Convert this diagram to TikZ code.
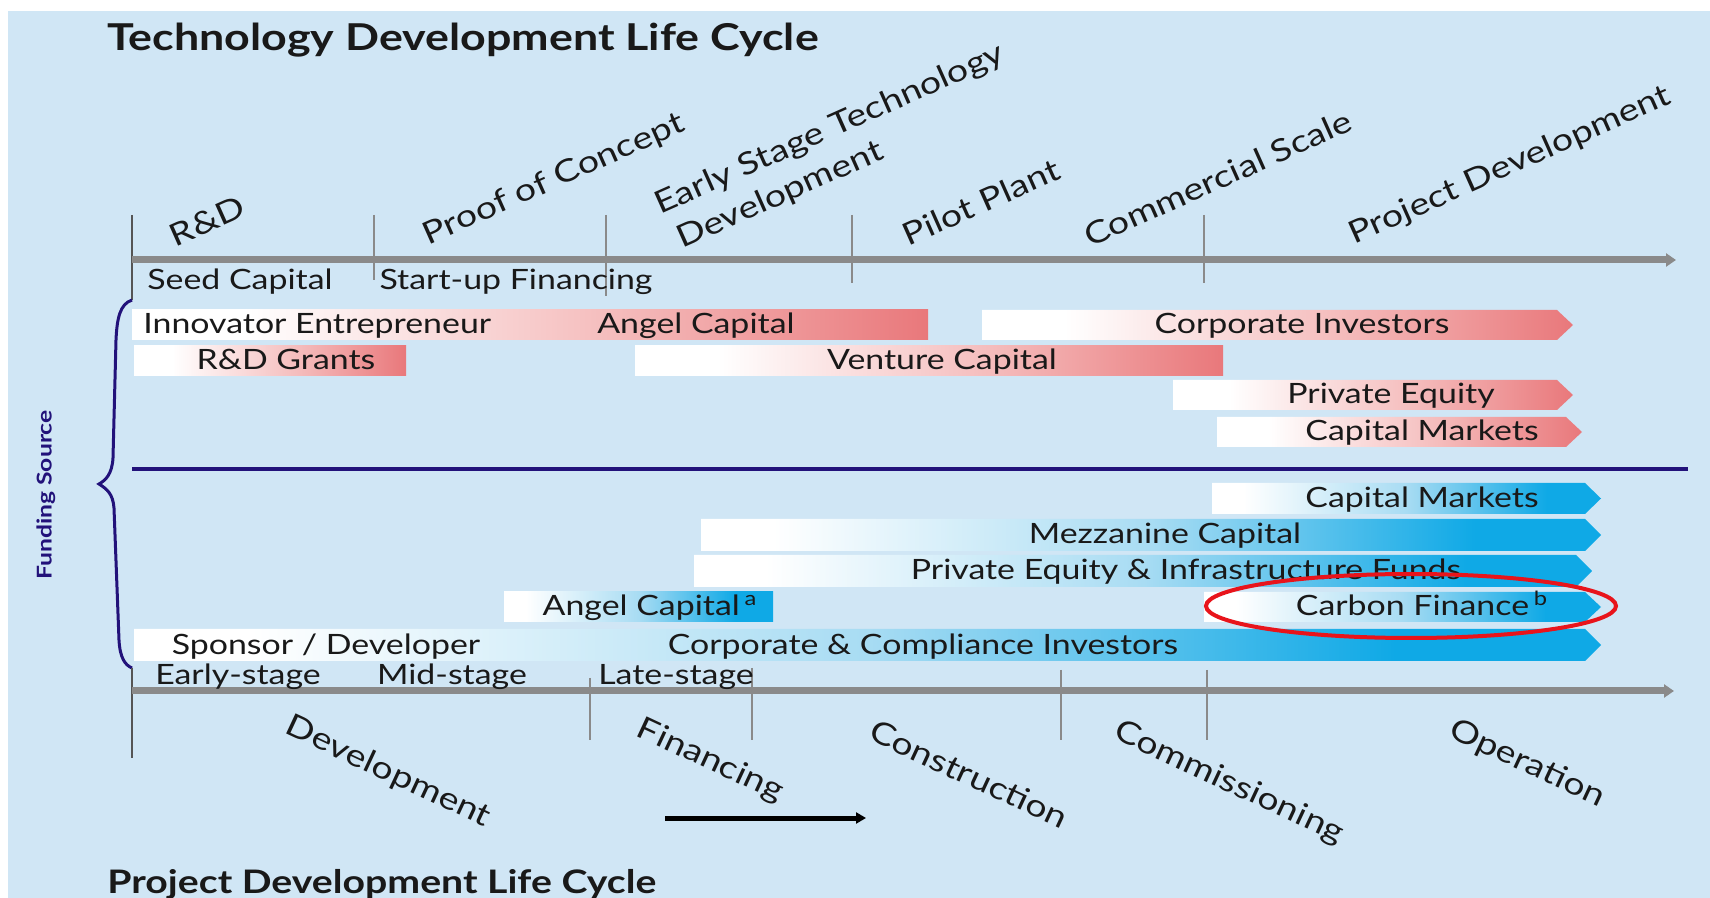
\documentclass[tikz,border=0pt]{standalone}
\usepackage{fontspec}
\setmainfont{Lato}[FakeStretch=1.21]
\usetikzlibrary{arrows.meta}
\definecolor{bgblue}{HTML}{D0E6F5}
\definecolor{navy}{HTML}{22127A}
\definecolor{axgray}{HTML}{8A8A8A}
\definecolor{darkax}{HTML}{555555}
\definecolor{salmon}{HTML}{E9787B}
\definecolor{pinkmid}{HTML}{F5BDBD}
\definecolor{cyanbar}{HTML}{0FA9E6}
\definecolor{lightcy}{HTML}{A8DCF3}
\definecolor{ellred}{HTML}{E8141B}
\pgfdeclarehorizontalshading{redshade}{100bp}{color(0bp)=(white); color(25bp)=(white); color(32bp)=(white); color(55bp)=(pinkmid); color(75bp)=(salmon); color(100bp)=(salmon)}
\pgfdeclarehorizontalshading{blueshade}{100bp}{color(0bp)=(white); color(25bp)=(white); color(29bp)=(white); color(50bp)=(lightcy); color(68bp)=(cyanbar); color(100bp)=(cyanbar)}
\newcommand{\tipbar}[5]{\shade[shading=#5] (#1,#3) -- (#2,#3) -- ({#2+16},{(#3+#4)/2}) -- (#2,#4) -- (#1,#4) -- cycle;}
\newcommand{\flatbar}[5]{\shade[shading=#5] (#1,#3) rectangle (#2,#4);}
\tikzset{
  bt/.style={font=\fontsize{14}{16}\selectfont, text=black!90, inner sep=0pt, anchor=base},
  st/.style={font=\fontsize{15.5}{20}\selectfont, text=black!90, inner sep=0pt},
  tt/.style={font=\bfseries\fontsize{18.5}{22}\selectfont, text=black!90, inner sep=0pt, anchor=west},
  tickln/.style={axgray, line width=1pt},
  axisln/.style={axgray, line width=3.5pt, -{Triangle[length=5pt,width=6.5pt]}},
}
\begin{document}
\begin{tikzpicture}[x=0.5pt,y=-0.5pt]
\useasboundingbox (0,0) rectangle (1710,898);
\fill[white] (0,0) rectangle (1710,898);
\fill[bgblue] (8,11) rectangle (1710,898);

% titles
\node[tt] (title1) at (107,40) {Technology Development Life Cycle};
\node[tt, font=\bfseries\fontsize{16.2}{20}\selectfont] (title2) at (107,884) {Project Development Life Cycle};

% top axis
\coordinate (lt0) at (132,215);
\coordinate (lt1) at (132,300);
\draw[darkax, line width=1.2pt] (lt0) -- (lt1);
\coordinate (tk1a) at (374,215); \coordinate (tk1b) at (374,280);
\coordinate (tk2a) at (606,215); \coordinate (tk2b) at (606,296);
\coordinate (tk3a) at (852,215); \coordinate (tk3b) at (852,283);
\coordinate (tk4a) at (1204,215); \coordinate (tk4b) at (1204,283);
\draw[tickln] (tk1a) -- (tk1b);
\draw[tickln] (tk2a) -- (tk2b);
\draw[tickln] (tk3a) -- (tk3b);
\draw[tickln] (tk4a) -- (tk4b);
\coordinate (ta0) at (132,260);
\coordinate (ta1) at (1676,260);
\draw[axisln] (ta0) -- (ta1);

% top stage labels
\node[st, rotate=24] (rd) at (207,221) {R\&D};
\node[st, rotate=24] (poc) at (554,180) {Proof of Concept};
\node[st, rotate=24, align=left] (esd) at (838,148) {Early Stage Technology\\\hspace{0.2em}Development};
\node[st, rotate=24] (pp) at (981,202) {Pilot Plant};
\node[st, rotate=24] (cs) at (1218,178) {Commercial Scale};
\node[st, rotate=24] (pd) at (1510,166) {Project Development};

\node[bt] (seed) at (240,290) {Seed Capital};
\node[bt] (suf) at (516,290) {Start-up Financing};

% red bars
\flatbar{132}{928}{310}{340}{redshade}
\tipbar{982}{1557}{310}{340}{redshade}
\flatbar{134}{406}{346}{376}{redshade}
\flatbar{635}{1223}{346}{376}{redshade}
\tipbar{1173}{1557}{380}{410}{redshade}
\tipbar{1217}{1566}{417}{447}{redshade}
\node[bt, anchor=base west] (ie) at (143,334) {Innovator Entrepreneur};
\node[bt] (ac1) at (696,334) {Angel Capital};
\node[bt] (ci) at (1302,334) {Corporate Investors};
\node[bt] (rdg) at (286,370) {R\&D Grants};
\node[bt] (vc) at (942,370) {Venture Capital};
\node[bt] (pe) at (1391,404) {Private Equity};
\node[bt] (cm1) at (1422,441) {Capital Markets};

% divider
\coordinate (dv0) at (132,469);
\coordinate (dv1) at (1688,469);
\draw[navy, line width=2.3pt] (dv0) -- (dv1);

% blue bars
\tipbar{1212}{1585}{483}{514}{blueshade}
\tipbar{701}{1585}{519}{551}{blueshade}
\tipbar{694}{1576}{555}{587}{blueshade}
\flatbar{504}{773}{592}{622}{blueshade}
\tipbar{1204}{1585}{592}{622}{blueshade}
\tipbar{134}{1585}{629}{661}{blueshade}
\node[bt] (cm2) at (1422,508) {Capital Markets};
\node[bt] (mz) at (1165,544) {Mezzanine Capital};
\node[bt] (pei) at (1186,580) {Private Equity \& Infrastructure Funds};
\node[bt] (ac2) at (650,616) {Angel Capital\,\textsuperscript{a}};
\node[bt] (cf) at (1422,616) {Carbon Finance\,\textsuperscript{b}};
\node[bt] (sd) at (326,654) {Sponsor / Developer};
\node[bt] (cci) at (923,654) {Corporate \& Compliance Investors};

% red ellipse
\draw[ellred, line width=2pt] (1411,606) ellipse [x radius=205, y radius=32];

% brace
\coordinate (lb1) at (132,668);
\coordinate (lb0) at (132,758);
\draw[navy, line width=1.5pt] (lt1) .. controls (120,304) and (117,318) .. (116,340)
  -- (113,458) .. controls (112,474) and (106,480) .. (99,484)
  .. controls (107,489) and (113,494) .. (114,508)
  -- (119,640) .. controls (120,658) and (125,665) .. (lb1);
\node[rotate=90, font=\bfseries\fontsize{10.2}{12}\selectfont, text=navy, inner sep=0pt] (fs) at (46,495) {Funding Source};

% bottom axis
\draw[darkax, line width=1.2pt] (lb1) -- (lb0);
\coordinate (bk1a) at (590,678); \coordinate (bk1b) at (590,740);
\coordinate (bk2a) at (752,668); \coordinate (bk2b) at (752,740);
\coordinate (bk3a) at (1061,670); \coordinate (bk3b) at (1061,740);
\coordinate (bk4a) at (1207,670); \coordinate (bk4b) at (1207,740);
\draw[tickln] (bk1a) -- (bk1b);
\draw[tickln] (bk2a) -- (bk2b);
\draw[tickln] (bk3a) -- (bk3b);
\draw[tickln] (bk4a) -- (bk4b);
\coordinate (ba0) at (132,691);
\coordinate (ba1) at (1674,691);
\draw[axisln] (ba0) -- (ba1);

\node[bt] (es) at (238,684) {Early-stage};
\node[bt] (ms) at (452,684) {Mid-stage};
\node[bt] (ls) at (676,684) {Late-stage};

% bottom stage labels
\node[st, rotate=-25] (dev) at (388,772) {Development};
\node[st, rotate=-25] (fin) at (710,761) {Financing};
\node[st, rotate=-25] (con) at (969,774) {Construction};
\node[st, rotate=-25] (com) at (1229,783) {Commissioning};
\node[st, rotate=-25] (op) at (1527,764) {Operation};

% black arrow
\coordinate (ar0) at (665,818);
\coordinate (ar1) at (866,818);
\draw[black, line width=2.5pt, -{Triangle[length=5pt,width=5.5pt]}] (ar0) -- (ar1);
\end{tikzpicture}
\end{document}
